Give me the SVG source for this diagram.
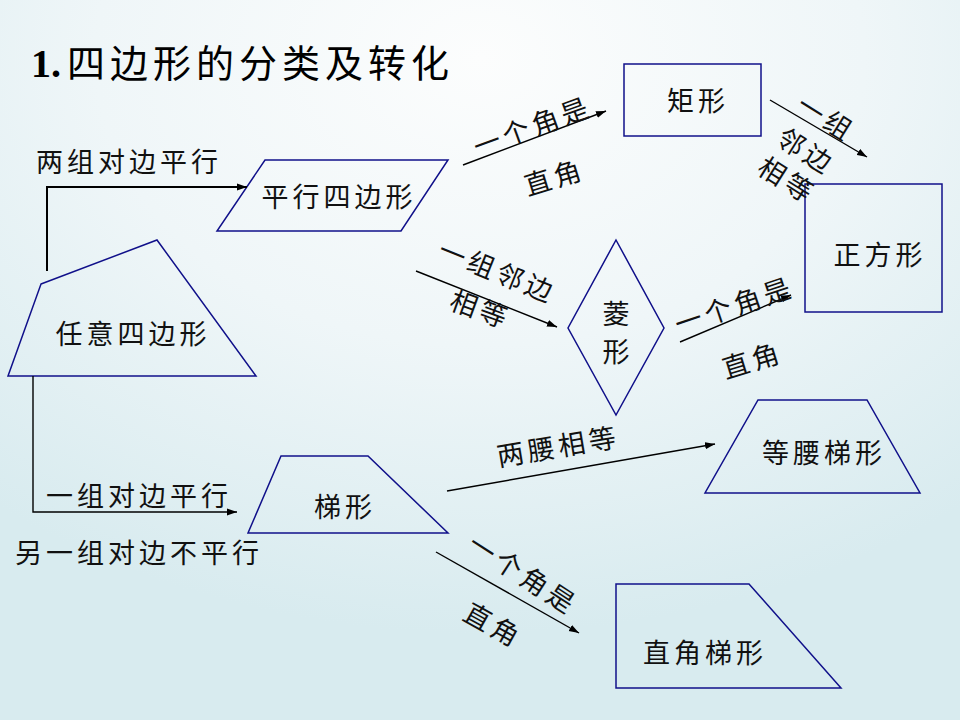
<svg xmlns="http://www.w3.org/2000/svg" width="960" height="720" viewBox="0 0 960 720">
<defs>
<radialGradient id="bg" cx="50%" cy="8%" r="80%">
<stop offset="0" stop-color="#fcfdfd"/>
<stop offset="0.5" stop-color="#eff6f8"/>
<stop offset="1" stop-color="#d8ebef"/>
</radialGradient>
<marker id="arr" markerUnits="userSpaceOnUse" markerWidth="11" markerHeight="8" refX="10" refY="4" orient="auto">
<path d="M0,0.5 L10,4 L0,7.5 z" fill="#000"/>
</marker>
</defs>
<style>
.shape{fill:none;stroke:#10108a;stroke-width:1.5;stroke-linejoin:miter}
.conn{fill:none;stroke:#000;stroke-width:1.4}
.t{font-family:"Noto Sans CJK SC","Noto Sans CJK TC",sans-serif;font-size:27px;fill:#111;letter-spacing:4px}
.c{text-anchor:middle;dominant-baseline:central}
</style>
<rect x="0" y="0" width="960" height="720" fill="url(#bg)"/>

<g id="title">
<text x="31" y="77" font-family="Liberation Serif, serif" font-weight="bold" font-size="40" fill="#000">1.</text>
<text x="67" y="77" font-family="'Noto Sans CJK SC', sans-serif" font-size="38" letter-spacing="5" fill="#000">四边形的分类及转化</text>
</g>

<g id="node-any">
<polygon class="shape" points="41,284 157,240 256,376 8,376"/>
<text class="t c" x="133" y="332">任意四边形</text>
</g>
<g id="node-parallelogram">
<polygon class="shape" points="265,160 448,160 401,231 217,231"/>
<text class="t c" x="339" y="195">平行四边形</text>
</g>
<g id="node-rectangle">
<rect class="shape" x="624" y="64" width="137" height="72"/>
<text class="t c" x="698" y="99">矩形</text>
</g>
<g id="node-square">
<rect class="shape" x="805" y="184" width="137" height="128"/>
<text class="t c" x="880" y="253">正方形</text>
</g>
<g id="node-rhombus">
<polygon class="shape" points="616,240 664,328 616,415 568,328"/>
<text class="t c" x="618" y="312">菱</text>
<text class="t c" x="618" y="350">形</text>
</g>
<g id="node-trapezoid">
<polygon class="shape" points="281,456 368,456 448,533 248,533"/>
<text class="t c" x="345" y="505">梯形</text>
</g>
<g id="node-isosceles">
<polygon class="shape" points="758,400 867,400 920,493 705,493"/>
<text class="t c" x="824" y="451">等腰梯形</text>
</g>
<g id="node-right-trapezoid">
<polygon class="shape" points="616,584 749,584 841,688 616,688"/>
<text class="t c" x="705" y="651">直角梯形</text>
</g>

<g id="connectors">
<polyline class="conn" style="stroke-width:2" points="47,271 47,187 247,187" marker-end="url(#arr)"/>
<polyline class="conn" points="33,376 33,512 237,512" marker-end="url(#arr)"/>
<line class="conn" x1="463" y1="165" x2="606" y2="111" marker-end="url(#arr)"/>
<line class="conn" x1="770" y1="100" x2="867" y2="157" marker-end="url(#arr)"/>
<line class="conn" x1="416" y1="271" x2="557" y2="327" marker-end="url(#arr)"/>
<line class="conn" x1="680" y1="342" x2="791" y2="295" marker-end="url(#arr)"/>
<line class="conn" x1="447" y1="491" x2="715" y2="444" marker-end="url(#arr)"/>
<line class="conn" x1="436" y1="552" x2="579" y2="633" marker-end="url(#arr)"/>
</g>

<g id="labels">
<text class="t" x="36" y="172">两组对边平行</text>
<text class="t" x="46" y="506">一组对边平行</text>
<text class="t" x="15" y="563">另一组对边不平行</text>
<text class="t c" transform="translate(532,125) rotate(-20)">一个角是</text>
<text class="t c" transform="translate(554,176) rotate(-17)">直角</text>
<text class="t c" transform="translate(827,117) rotate(32)">一组</text>
<text class="t c" transform="translate(807,150) rotate(32)">邻边</text>
<text class="t c" transform="translate(788,179) rotate(32)">相等</text>
<text class="t c" transform="translate(498,270) rotate(22)">一组邻边</text>
<text class="t c" transform="translate(481,308) rotate(20)">相等</text>
<text class="t c" transform="translate(734,304) rotate(-18.5)">一个角是</text>
<text class="t c" transform="translate(752,359) rotate(-17)">直角</text>
<text class="t c" transform="translate(558,445) rotate(-9.5)">两腰相等</text>
<text class="t c" transform="translate(524,573) rotate(33)">一个角是</text>
<text class="t c" transform="translate(494,624) rotate(29)">直角</text>
</g>
</svg>
